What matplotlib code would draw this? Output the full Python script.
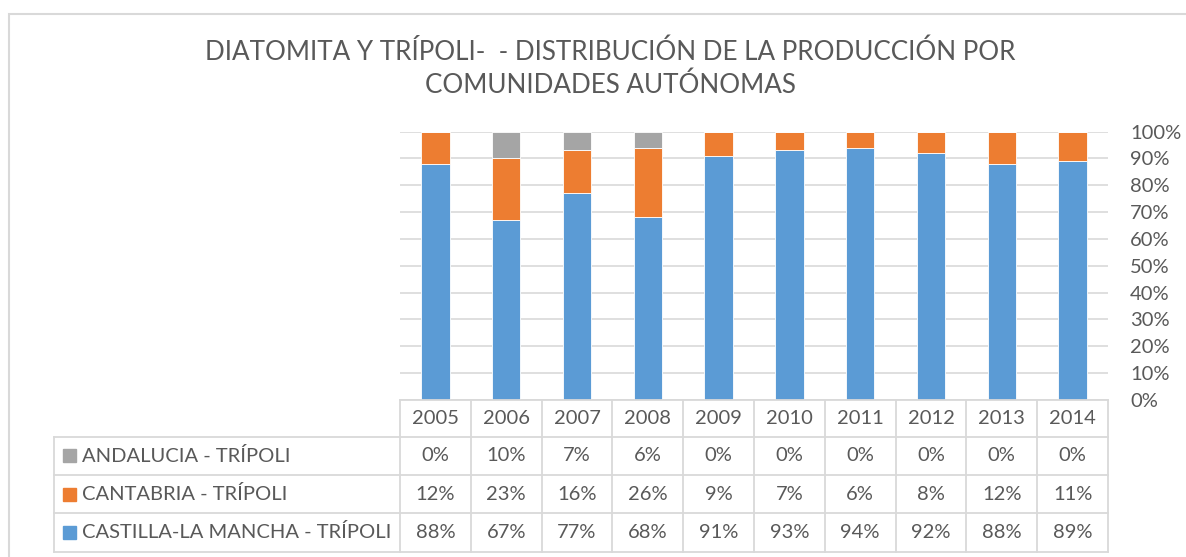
import matplotlib.pyplot as plt
from matplotlib.patches import Rectangle
import numpy as np

years = ["2005", "2006", "2007", "2008", "2009", "2010", "2011", "2012", "2013", "2014"]
castilla = [88, 67, 77, 68, 91, 93, 94, 92, 88, 89]
cantabria = [12, 23, 16, 26, 9, 7, 6, 8, 12, 11]
andalucia = [0, 10, 7, 6, 0, 0, 0, 0, 0, 0]

series_names = ["ANDALUCIA - TRÍPOLI", "CANTABRIA - TRÍPOLI", "CASTILLA-LA MANCHA - TRÍPOLI"]
series_values = [andalucia, cantabria, castilla]
colors = ["#A5A5A5", "#ED7D31", "#5B9BD5"]

txt = "#595959"
grid = "#D9D9D9"
W, H = 1186, 557
fs = 14.5
plt.rcParams["font.family"] = ["Lato", "DejaVu Sans"]

fig = plt.figure(figsize=(W / 100, H / 100), dpi=100)

# outer chart border
fig.add_artist(Rectangle((9 / W, -0.1), 1.2, 1 - 14 / H + 0.1, transform=fig.transFigure,
                         fill=False, edgecolor=grid, linewidth=1.5))

fig.text(610 / W, 1 - 52 / H, "DIATOMITA Y TRÍPOLI-  - DISTRIBUCIÓN DE LA PRODUCCIÓN POR",
         ha="center", va="center", fontsize=18.7, color=txt)
fig.text(610 / W, 1 - 85 / H, "COMUNIDADES AUTÓNOMAS",
         ha="center", va="center", fontsize=18.7, color=txt)

x0, x1, ytop, ybot = 400, 1108, 131.5, 400
ax = fig.add_axes([x0 / W, 1 - ybot / H, (x1 - x0) / W, (ybot - ytop) / H])
x = np.arange(len(years))
bottom = np.zeros(len(years))
for vals, c in zip([castilla, cantabria, andalucia], [colors[2], colors[1], colors[0]]):
    ax.bar(x, vals, 0.4, bottom=bottom, color=c, edgecolor="white", linewidth=0.6, zorder=3)
    bottom += np.array(vals)
ax.set_xlim(-0.5, len(years) - 0.5)
ax.set_ylim(0, 100)
ax.set_yticks(np.arange(0, 101, 10))
ax.set_yticklabels([f"{v}%" for v in range(0, 101, 10)])
ax.yaxis.tick_right()
ax.tick_params(axis="y", length=0, pad=16, labelsize=fs, labelcolor=txt)
ax.set_xticks([])
ax.grid(axis="y", color=grid, linewidth=1.2, zorder=0)
for s in ax.spines.values():
    s.set_visible(False)

# data table below the plot
label_w = (x0 - 54) / ((x1 - x0) / len(years))
row_edges = [0, 36.5, 75, 113, 151.5]
tax = fig.add_axes([x0 / W, 1 - (ybot + row_edges[-1]) / H, (x1 - x0) / W, row_edges[-1] / H])
tax.set_xlim(-0.5, len(years) - 0.5)
tax.set_ylim(row_edges[-1], 0)
tax.axis("off")
lk = dict(color=grid, linewidth=1.3, clip_on=False)
left = -0.5 - label_w
right = len(years) - 0.5
tax.plot([-0.5, right], [row_edges[0]] * 2, **lk)
for r in row_edges[1:]:
    tax.plot([left, right], [r, r], **lk)
for i in range(len(years) + 1):
    tax.plot([i - 0.5, i - 0.5], [row_edges[0], row_edges[-1]], **lk)
tax.plot([left, left], [row_edges[1], row_edges[-1]], **lk)

for i, yr in enumerate(years):
    tax.text(i, (row_edges[0] + row_edges[1]) / 2, yr, ha="center", va="center",
             fontsize=fs, color=txt)
px = 1 / ((x1 - x0) / len(years))
for r, (name, vals, c) in enumerate(zip(series_names, series_values, colors)):
    yc = (row_edges[r + 1] + row_edges[r + 2]) / 2
    tax.add_patch(Rectangle((left + 9 * px, yc - 6.5), 13.5 * px, 13, color=c, clip_on=False))
    tax.text(left + 28 * px, yc, name, ha="left", va="center", fontsize=fs, color=txt)
    for i, v in enumerate(vals):
        tax.text(i, yc, f"{v}%", ha="center", va="center", fontsize=fs, color=txt)

fig.savefig("out.png", dpi=100)
